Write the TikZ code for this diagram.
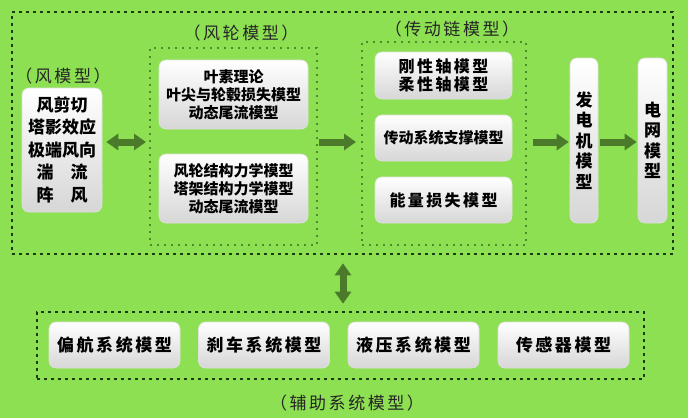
\documentclass[tikz,border=0pt]{standalone}
\usepackage{fontspec}
\usetikzlibrary{arrows.meta}
\newfontfamily\cjk{Noto Sans CJK SC}
\newfontfamily\cjkwide[LetterSpace=15]{Noto Sans CJK SC}
\definecolor{bggreen}{HTML}{8DE052}
\definecolor{dotgreen}{HTML}{1E3A10}
\definecolor{groupgreen}{HTML}{4E8C2E}
\definecolor{arrowgreen}{HTML}{4A7A2A}

\begin{document}
\begin{tikzpicture}[x=1pt,y=-1pt,
    modelbox/.style={rounded corners=7pt,top color=white,bottom color=black!16,draw=black!12,line width=0.6pt,
        inner sep=0pt,align=center,text=black,font=\cjk\bfseries\fontsize{15}{18}\selectfont},
    widebox/.style={modelbox,font=\cjkwide\bfseries\fontsize{16}{18}\selectfont},
    tallbox/.style={modelbox,minimum width=28pt,minimum height=165pt,font=\cjk\bfseries\fontsize{17}{20.5}\selectfont},
    auxbox/.style={widebox,minimum width=131pt,minimum height=46pt,font=\cjkwide\bfseries\fontsize{17}{20}\selectfont},
    groupdots/.style={draw=groupgreen,line width=2pt,dash pattern=on 2pt off 5pt},
    outerdots/.style={draw=dotgreen,line width=2.6pt,dash pattern=on 2.6pt off 4.4pt},
    grouplabel/.style={font=\cjkwide\fontsize{17}{20}\selectfont,text=black!85},
    fatarrow/.style={draw=arrowgreen,line width=7pt,-{Triangle[length=12pt,width=16pt]}},
    fatboth/.style={fatarrow,{Triangle[length=12pt,width=16pt]}-{Triangle[length=12pt,width=16pt]}}]

    \fill[bggreen] (0,0) rectangle (688,418);
    \useasboundingbox (0,0) rectangle (688,418);

    \node[outerdots,minimum width=661pt,minimum height=242pt] (system) at (342.5,133) {};
    \node[groupdots,minimum width=167pt,minimum height=197pt] (rotor) at (233.5,146.5) {};
    \node[groupdots,minimum width=164pt,minimum height=203pt] (drivetrain) at (444,143.5) {};
    \node[outerdots,minimum width=607pt,minimum height=67pt] (auxiliary) at (340.5,345.5) {};

    \node[grouplabel] (windlabel) at (63,76) {（风模型）};
    \node[grouplabel] (rotorlabel) at (241,33) {（风轮模型）};
    \node[grouplabel] (drivelabel) at (452,29) {（传动链模型）};
    \node[grouplabel] (auxlabel) at (347,403) {（辅助系统模型）};

    \node[widebox,minimum width=80pt,minimum height=124pt,font=\cjk\bfseries\fontsize{17}{22.5}\selectfont] (wind) at (62,150)
        {风剪切\\塔影效应\\极端风向\\湍　流\\阵　风};
    \node[modelbox,minimum width=149pt,minimum height=69pt] (blade) at (233.5,94.5)
        {叶素理论\\叶尖与轮毂损失模型\\动态尾流模型};
    \node[modelbox,minimum width=149pt,minimum height=69pt] (structure) at (233.5,188.5)
        {风轮结构力学模型\\塔架结构力学模型\\动态尾流模型};

    \node[widebox,minimum width=137pt,minimum height=47pt] (shaft) at (443.5,75.5) {刚性轴模型\\柔性轴模型};
    \node[modelbox,minimum width=137pt,minimum height=46pt] (support) at (443.5,138) {传动系统支撑模型};
    \node[widebox,minimum width=137pt,minimum height=46pt] (loss) at (443.5,200) {能量损失模型};

    \node[tallbox] (generator) at (584,140.5) {发\\电\\机\\模\\型};
    \node[tallbox,minimum width=29pt] (grid) at (652.5,140.5) {电\\网\\模\\型};

    \node[auxbox] (yaw) at (114.5,345) {偏航系统模型};
    \node[auxbox] (brake) at (264,345) {刹车系统模型};
    \node[auxbox] (hydraulic) at (413.5,345) {液压系统模型};
    \node[auxbox] (sensor) at (563.5,345) {传感器模型};

    \coordinate (axis) at (0,142);
    \coordinate (spine) at (343,0);
    \draw[fatboth,shorten <=4pt,shorten >=3pt] (wind.east |- axis) -- (rotor.west |- axis);
    \draw[fatarrow,shorten <=1pt,shorten >=5pt] (rotor.east |- axis) -- (drivetrain.west |- axis);
    \draw[fatarrow,shorten <=6pt,shorten >=1pt] (drivetrain.east |- axis) -- (generator.west |- axis);
    \draw[fatarrow,shorten <=2pt,shorten >=1pt] (generator.east |- axis) -- (grid.west |- axis);
    \draw[fatboth,shorten <=8pt,shorten >=7pt] (system.south -| spine) -- (auxiliary.north -| spine);
\end{tikzpicture}
\end{document}
